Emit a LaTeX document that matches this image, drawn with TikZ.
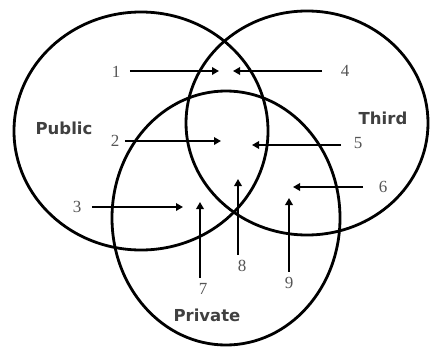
\documentclass[tikz,border=0pt]{standalone}
\usepackage{fontspec}
\setmainfont{Liberation Serif}
\newfontfamily\labelfont{DejaVu Sans}
\usetikzlibrary{positioning,arrows.meta}
\definecolor{numgray}{HTML}{555555}
\definecolor{labgray}{HTML}{404040}
\begin{document}
\begin{tikzpicture}[
x=1pt, y=-1pt,
ring/.style={draw, line width=2.8pt},
num/.style={text=numgray, font=\fontsize{17}{19}\selectfont, inner sep=5.5pt},
setname/.style={text=labgray, font=\labelfont\bfseries\fontsize{16.5}{18}\selectfont},
arr/.style={-{Triangle[length=7pt,width=7.5pt]}, line width=2.4pt}
]
\useasboundingbox (0,0) rectangle (430,350);
% the three sets
\draw[ring] (141,131) ellipse [x radius=127pt, y radius=119pt];
\draw[ring] (307,123) ellipse [x radius=121pt, y radius=112pt];
\draw[ring] (226,218) ellipse [x radius=114pt, y radius=127pt];
\node[setname] (public) at (64,128) {Public};
\node[setname] (third) at (383,118) {Third};
\node[setname] (private) at (207,315) {Private};
% numbered labels and arrow tips
\node[num] (n1) at (116,72) {1};
\node[num] (n2) at (115,141) {2};
\node[num] (n3) at (77,207) {3};
\node[num] (n4) at (345,71) {4};
\node[num] (n5) at (358,143) {5};
\node[num] (n6) at (383,187) {6};
\node[num] (n7) at (203,289) {7};
\node[num] (n8) at (242,266) {8};
\node[num] (n9) at (289,283) {9};
\coordinate (t1) at (219,71);
\coordinate (t2) at (221,141);
\coordinate (t3) at (183,207);
\coordinate (t4) at (233,71);
\coordinate (t5) at (252,145);
\coordinate (t6) at (293,187);
\coordinate (t7) at (200,202);
\coordinate (t8) at (238,179);
\coordinate (t9) at (289,198);
\draw[arr, shorten <=4pt] (n1.east |- t1) -- (t1);
\draw[arr] (n2.east |- t2) -- (t2);
\draw[arr, shorten <=5pt] (n3.east |- t3) -- (t3);
\draw[arr, shorten <=13pt] (n4.west |- t4) -- (t4);
\draw[arr, shorten <=7pt] (n5.west |- t5) -- (t5);
\draw[arr, shorten <=10pt] (n6.west |- t6) -- (t6);
\draw[arr] (t7 |- n7.north) -- (t7);
\draw[arr] (t8 |- n8.north) -- (t8);
\draw[arr] (t9 |- n9.north) -- (t9);
\end{tikzpicture}
\end{document}
